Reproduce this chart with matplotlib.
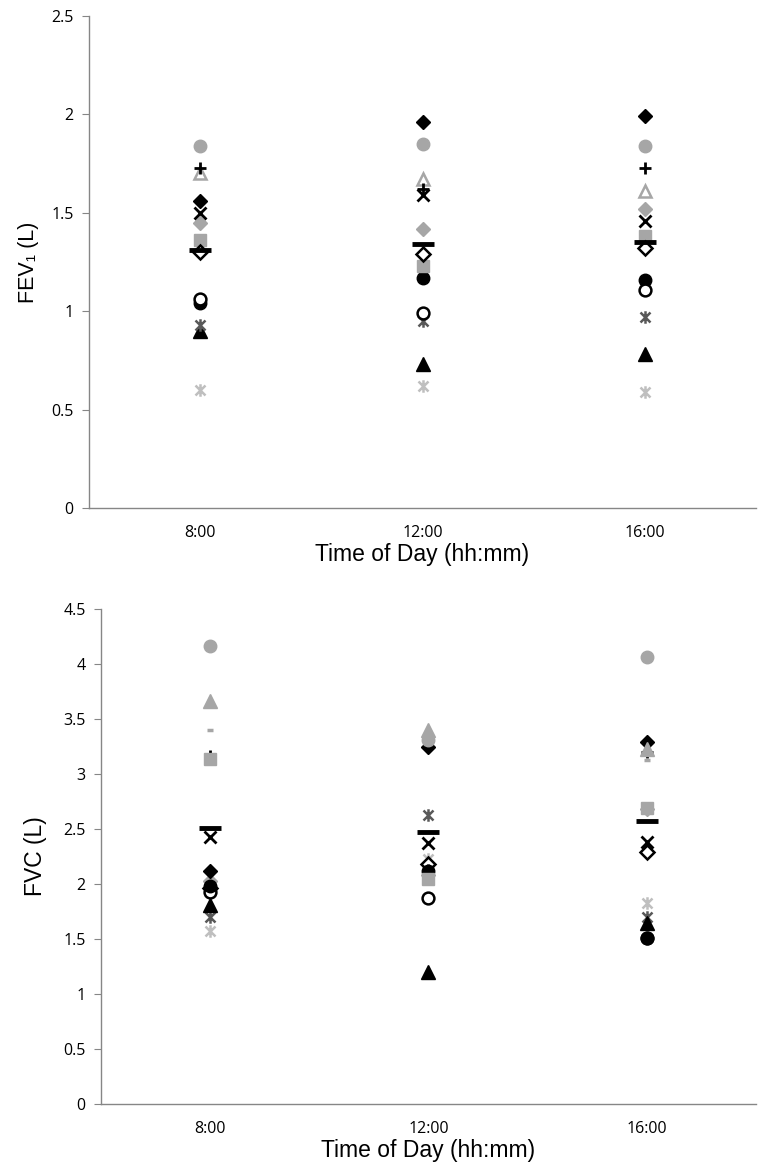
import matplotlib
matplotlib.use("Agg")
import matplotlib.pyplot as plt
from matplotlib.path import Path

times = ["8:00", "12:00", "16:00"]

# FEV1 (L), one list per subject marker
fev_gray_circle = [1.84, 1.85, 1.84]
fev_plus = [1.73, 1.62, 1.73]
fev_gray_open_tri = [1.70, 1.67, 1.61]
fev_black_diamond = [1.56, 1.96, 1.99]
fev_x = [1.50, 1.59, 1.46]
fev_gray_diamond = [1.45, 1.42, 1.52]
fev_gray_square = [1.36, 1.23, 1.38]
fev_open_diamond = [1.30, 1.29, 1.32]
fev_black_circle = [1.04, 1.17, 1.16]
fev_open_circle = [1.06, 0.99, 1.11]
fev_dark_star = [0.93, 0.95, 0.97]
fev_black_tri = [0.90, 0.73, 0.78]
fev_light_star = [0.60, 0.62, 0.59]
fev_mean = [1.31, 1.34, 1.35]

# FVC (L)
fvc_gray_circle = [4.16, 3.31, 4.06]
fvc_gray_tri = [3.66, 3.40, 3.23]
fvc_gray_dash = [3.40, 3.30, 3.13]
fvc_plus = [3.16, 2.13, 3.20]
fvc_gray_square = [3.14, 2.05, 2.69]
fvc_x = [2.43, 2.37, 2.38]
fvc_black_diamond = [2.12, 3.25, 3.29]
fvc_gray_diamond = [2.03, 2.08, 2.68]
fvc_black_circle = [1.98, 2.12, 1.51]
fvc_open_circle = [1.93, 1.87, 1.51]
fvc_open_diamond = [1.96, 2.18, 2.29]
fvc_black_tri = [1.81, 1.20, 1.65]
fvc_dark_star = [1.70, 2.63, 1.70]
fvc_light_star = [1.57, 2.23, 1.83]
fvc_mean = [2.51, 2.47, 2.57]

GRAY = "#a6a6a6"
DARK = "#595959"
LIGHT = "#bfbfbf"

# excel style asterisk: an x with a vertical bar through it
AST = Path([(-1, -1), (1, 1), (-1, 1), (1, -1), (0, -1.25), (0, 1.25)],
           [Path.MOVETO, Path.LINETO, Path.MOVETO, Path.LINETO, Path.MOVETO, Path.LINETO])

sty = {
    "gray_circle": dict(marker="o", color=GRAY, ms=9),
    "plus": dict(marker="+", color="black", ms=8, mew=2),
    "gray_open_tri": dict(marker="^", mfc="white", mec=GRAY, ms=9, mew=1.8),
    "gray_tri": dict(marker="^", color=GRAY, ms=9.5),
    "gray_dash": dict(marker="_", color=GRAY, ms=5, mew=2.5),
    "black_diamond": dict(marker="D", color="black", ms=7.5),
    "x": dict(marker="x", color="black", ms=8, mew=2),
    "gray_diamond": dict(marker="D", color=GRAY, ms=7.5),
    "gray_square": dict(marker="s", color=GRAY, ms=9),
    "open_diamond": dict(marker="D", mfc="white", mec="black", ms=7, mew=1.8),
    "black_circle": dict(marker="o", color="black", ms=9),
    "open_circle": dict(marker="o", mfc="white", mec="black", ms=8.5, mew=1.8),
    "dark_star": dict(marker=AST, color=DARK, ms=9, mew=1.8),
    "black_tri": dict(marker="^", color="black", ms=9.5),
    "light_star": dict(marker=AST, color=LIGHT, ms=9, mew=1.8),
    "mean": dict(marker="_", color="black", ms=16, mew=3.5),
}

top_series = [
    (fev_light_star, "light_star"), (fev_black_tri, "black_tri"),
    (fev_dark_star, "dark_star"), (fev_black_circle, "black_circle"),
    (fev_open_circle, "open_circle"), (fev_gray_square, "gray_square"),
    (fev_open_diamond, "open_diamond"), (fev_gray_diamond, "gray_diamond"),
    (fev_black_diamond, "black_diamond"), (fev_x, "x"),
    (fev_gray_open_tri, "gray_open_tri"), (fev_plus, "plus"),
    (fev_gray_circle, "gray_circle"), (fev_mean, "mean"),
]
bottom_series = [
    (fvc_light_star, "light_star"), (fvc_dark_star, "dark_star"),
    (fvc_black_tri, "black_tri"), (fvc_open_diamond, "open_diamond"),
    (fvc_open_circle, "open_circle"), (fvc_gray_diamond, "gray_diamond"),
    (fvc_black_circle, "black_circle"), (fvc_black_diamond, "black_diamond"),
    (fvc_x, "x"), (fvc_plus, "plus"), (fvc_gray_square, "gray_square"),
    (fvc_gray_dash, "gray_dash"), (fvc_gray_tri, "gray_tri"),
    (fvc_gray_circle, "gray_circle"), (fvc_mean, "mean"),
]

AX_COL = "#868686"
TICK_FONT = ["Open Sans", "DejaVu Sans"]
LAB_FONT = ["Liberation Sans", "DejaVu Sans"]

fig = plt.figure(figsize=(7.59, 11.75), dpi=100)
ax1 = fig.add_axes([89 / 759, 1 - 508 / 1175, 667 / 759, 492 / 1175])
ax2 = fig.add_axes([101 / 759, 1 - 1104 / 1175, 655 / 759, 495 / 1175])


def style_axis(ax, series, ymax, step, ylabel, ysize, ypad):
    xs = list(range(len(times)))
    for vals, key in series:
        ax.plot(xs, vals, linestyle="none", **sty[key])
    ax.set_xlim(-0.5, len(times) - 0.5)
    ax.set_ylim(0, ymax)
    yt = [round(i * step, 2) for i in range(int(round(ymax / step)) + 1)]
    ax.set_yticks(yt)
    ax.set_yticklabels([("%g" % v) for v in yt], family=TICK_FONT, fontsize=11.5)
    ax.set_xticks(xs)
    ax.set_xticklabels(times, family=TICK_FONT, fontsize=11.5)
    for s in ["top", "right"]:
        ax.spines[s].set_visible(False)
    for s in ["left", "bottom"]:
        ax.spines[s].set_color(AX_COL)
        ax.spines[s].set_linewidth(1)
    ax.tick_params(axis="y", length=5, color=AX_COL, pad=6)
    ax.tick_params(axis="x", length=0, pad=12)
    ax.set_xlabel("Time of Day (hh:mm)", family=LAB_FONT, fontsize=16.5, labelpad=2)
    ax.set_ylabel(ylabel, family=LAB_FONT, fontsize=ysize, labelpad=ypad)


style_axis(ax1, top_series, 2.5, 0.5, "FEV\u2081 (L)", 15.5, 9)
style_axis(ax2, bottom_series, 4.5, 0.5, "FVC (L)", 16.5, 12)

fig.savefig("out.png", dpi=100, facecolor="white")
